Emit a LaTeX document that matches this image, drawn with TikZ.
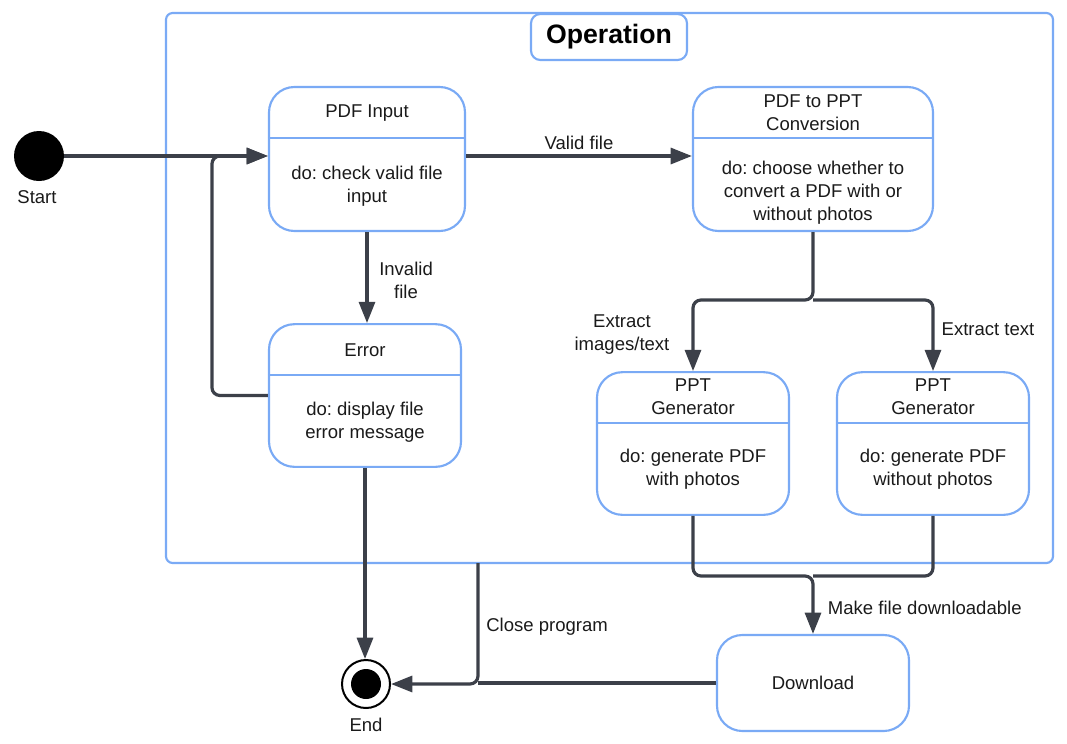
\documentclass[tikz,border=0pt]{standalone}
\usepackage{fontspec}
\setmainfont{Liberation Sans}
\usetikzlibrary{arrows.meta,positioning,calc}
\definecolor{sBlue}{HTML}{7AAAF5}
\definecolor{sDark}{HTML}{3C4049}
\definecolor{sText}{HTML}{1A1A1A}
\frenchspacing
\tikzset{
  >={Triangle[length=16pt,width=12pt]},
  state/.style={rectangle,rounded corners=19pt,draw=sBlue,line width=1.6pt,fill=white,minimum width=144pt,minimum height=107pt},
  divider/.style={draw=sBlue,line width=1.6pt},
  frame/.style={rectangle,rounded corners=5pt,draw=sBlue,line width=1.6pt},
  txt/.style={align=center,text=sText,inner sep=2pt,yshift=-2.25pt},
  wire/.style={sDark,line width=2.4pt,rounded corners=6pt},
  flow/.style={wire,->},
}

\begin{document}
\begin{tikzpicture}[x=0.75pt,y=-0.75pt,font=\fontsize{13.9}{17.25}\selectfont]
  \useasboundingbox (0,0) rectangle (1067,743);

  % composite state
  \node[frame,minimum width=665.25pt,minimum height=412.5pt] (op) at (609.5,288) {};
  \node[frame,fill=white,rounded corners=7pt,minimum width=117pt,minimum height=34.5pt,
        font=\fontsize{20}{24}\selectfont\bfseries] (title) at (609,37) {Operation};

  % start / end
  \node[circle,fill=black,minimum size=37.5pt,inner sep=0pt] (start) at (39,156) {};
  \node[txt] (startlbl) at (37,194) {Start};
  \node[circle,draw=black,line width=1.5pt,fill=white,minimum size=36pt,inner sep=0pt] (endst) at (366,684) {};
  \node[circle,fill=black,minimum size=22.5pt,inner sep=0pt] (enddot) at (endst) {};
  \node[txt] (endlbl) at (366,722) {End};

  % states
  \node[state,minimum width=147pt,minimum height=108pt] (pdf) at (367,159) {};
  \draw[divider] ([yshift=-39pt]pdf.north west) -- ([yshift=-39pt]pdf.north east);
  \node[txt] (pdfname) at ([yshift=-18pt]pdf.north) {PDF Input};
  \node[txt] (pdfdo) at ([yshift=37pt]pdf.south) {do: check valid file\\input};

  \node[state,minimum width=180pt,minimum height=108pt] (conv) at (813,159) {};
  \draw[divider] ([yshift=-39pt]conv.north west) -- ([yshift=-39pt]conv.north east);
  \node[txt] (convname) at ([yshift=-18pt]conv.north) {PDF to PPT\\Conversion};
  \node[txt] (convdo) at ([yshift=31.5pt]conv.south) {do: choose whether to\\convert a PDF with or\\without photos};

  \node[state] (err) at (365,395.5) {};
  \draw[divider] ([yshift=-39pt]err.north west) -- ([yshift=-39pt]err.north east);
  \node[txt] (errname) at ([yshift=-18pt]err.north) {Error};
  \node[txt] (errdo) at ([yshift=36.5pt]err.south) {do: display file\\error message};

  \node[state] (pptw) at (693,443.5) {};
  \draw[divider] ([yshift=-39pt]pptw.north west) -- ([yshift=-39pt]pptw.north east);
  \node[txt] (pptwname) at ([yshift=-17pt]pptw.north) {PPT\\Generator};
  \node[txt] (pptwdo) at ([yshift=37pt]pptw.south) {do: generate PDF\\with photos};

  \node[state] (pptn) at (933,443.5) {};
  \draw[divider] ([yshift=-39pt]pptn.north west) -- ([yshift=-39pt]pptn.north east);
  \node[txt] (pptnname) at ([yshift=-17pt]pptn.north) {PPT\\Generator};
  \node[txt] (pptndo) at ([yshift=37pt]pptn.south) {do: generate PDF\\without photos};

  \node[state,minimum height=72pt,text=sText] (dl) at (813,683) {Download};

  % junctions
  \coordinate (split) at (813,300);
  \coordinate (merge) at (813,576);
  \coordinate (exitpt) at (478,563);

  % transitions
  \draw[flow] (start) -- (start -| pdf.west);
  \draw[flow] (err.west) -- ++(-56,0) |- (start -| pdf.west);
  \draw[flow] (pdf.east |- start) -- node[txt,above=4pt] {Valid file} (conv.west |- start);
  \draw[flow] (pdf.south) -- node[txt,right=6pt] {Invalid\\file} (pdf.south |- err.north);
  \draw[flow] (conv.south) -- (split) -| (pptw.north);
  \draw[flow] (split) -| (pptn.north);
  \node[txt] (extlbl) at (622,332) {Extract\\images/text};
  \node[txt] (txtlbl) at (988,326) {Extract text};
  \draw[flow] (pptw.south) |- (merge) -- node[txt,right=8pt] {Make file downloadable} (dl.north);
  \draw[wire] (pptn.south) |- (merge);
  \draw[flow] (err.south) -- (err.south |- endst.north);
  \draw[flow] (exitpt) -- node[txt,right=3pt] {Close program} (exitpt |- endst) -- (endst.east);
  \draw[wire] (dl.west) -- (exitpt |- dl.west);
\end{tikzpicture}
\end{document}
